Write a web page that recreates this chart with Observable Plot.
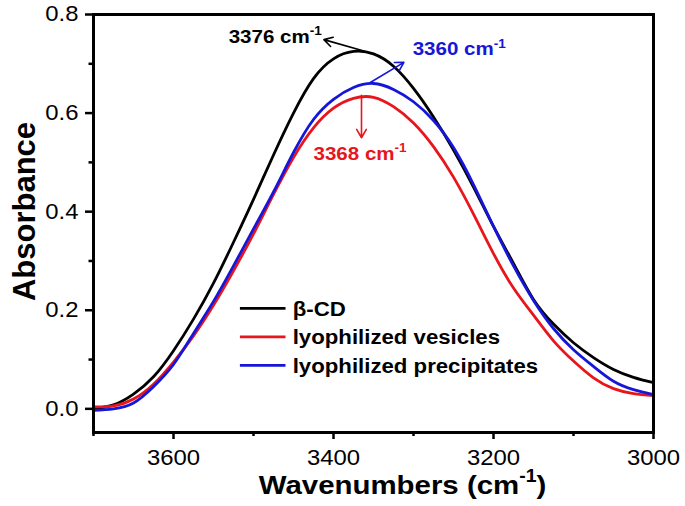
<!DOCTYPE html>
<html><head><meta charset="utf-8">
<script src="https://cdn.jsdelivr.net/npm/d3@7"></script>
<script src="https://cdn.jsdelivr.net/npm/@observablehq/plot@0.6"></script>
<style>body{margin:0;background:#fff}</style>
</head><body><div id="chart"></div>
<script>
const wavenumbers = [3700,3675,3650,3625,3600,3575,3550,3525,3500,3475,3450,3425,3400,3375,3350,3325,3300,3275,3250,3225,3200,3175,3150,3125,3100,3075,3050,3025,3000];
const betaCD = [0.000,0.008,0.030,0.065,0.118,0.182,0.255,0.338,0.425,0.515,0.600,0.670,0.710,0.725,0.720,0.695,0.650,0.592,0.525,0.450,0.370,0.295,0.222,0.172,0.134,0.104,0.080,0.064,0.053];
const vesicles = [0.004,0.006,0.020,0.050,0.095,0.148,0.210,0.280,0.355,0.435,0.510,0.570,0.610,0.630,0.632,0.613,0.580,0.532,0.470,0.395,0.315,0.245,0.190,0.138,0.097,0.063,0.041,0.031,0.027];
const precipitates = [-0.003,0.000,0.012,0.045,0.090,0.153,0.218,0.290,0.365,0.440,0.520,0.587,0.628,0.652,0.660,0.648,0.623,0.585,0.530,0.455,0.370,0.290,0.220,0.163,0.120,0.086,0.056,0.039,0.029];
const seriesNames = ["β-CD","lyophilized vesicles","lyophilized precipitates"];
const seriesColors = ["#000000","#e8161c","#1616d8"];
const xTicks = [3600,3400,3200,3000];
const xMinorTicks = [3700,3500,3300,3100];
const yTicks = [0,0.2,0.4,0.6,0.8];
const yMinorTicks = [0.1,0.3,0.5,0.7];
const peakLabels = ["3376 cm^-1","3360 cm^-1","3368 cm^-1"];
const peakColors = ["#000000","#1616d8","#e8161c"];
const peakLabelX = [3531,3301,3425];
const peakLabelY = [0.743,0.717,0.505];
const arrowFromX = [3362,3354,3365];
const arrowFromY = [0.726,0.662,0.636];
const arrowToX = [3412,3312,3365];
const arrowToY = [0.749,0.703,0.550];
const legendY = [0.204,0.146,0.088];

const series = [betaCD, vesicles, precipitates];
const rows = wavenumbers.flatMap((w, i) => series.map((s, k) => ({w, a: s[i], name: seriesNames[k]})));
const peaks = peakLabels.map((label, i) => ({label, x: peakLabelX[i], y: peakLabelY[i], x1: arrowFromX[i], y1: arrowFromY[i], x2: arrowToX[i], y2: arrowToY[i], color: peakColors[i]}));
const legend = seriesNames.map((name, i) => ({name, y: legendY[i], color: seriesColors[i]}));

const FONT = "'Liberation Sans', Arial, sans-serif";
const plot = Plot.plot({
  width: 685, height: 506,
  marginLeft: 93, marginRight: 32, marginTop: 14, marginBottom: 74,
  style: {fontFamily: FONT, fontSize: "21.5px", color: "#000", background: "#fff"},
  x: {domain: [3700, 3000], label: null},
  y: {domain: [-0.048, 0.8], label: null},
  color: {domain: seriesNames, range: seriesColors},
  marks: [
    Plot.line(rows, {x: "w", y: "a", z: "name", stroke: "name", strokeWidth: 2.8, curve: "natural"}),
    Plot.arrow(peaks, {x1: "x1", y1: "y1", x2: "x2", y2: "y2", stroke: "color", strokeWidth: 1.6, headLength: 9}),
    Plot.text(peaks, {x: "x", y: "y", text: "label", fill: "color", textAnchor: "start", lineAnchor: "bottom", fontSize: 18.5, fontWeight: "bold"}),
    Plot.link(legend, {x1: 3517, x2: 3460, y1: "y", y2: "y", stroke: "color", strokeWidth: 2.8}),
    Plot.text(legend, {x: 3451, y: "y", text: "name", textAnchor: "start", lineAnchor: "middle", dy: 1, fontSize: 20, fontWeight: "bold", fill: "#000"}),
    Plot.frame({stroke: "#000", strokeWidth: 3}),
    Plot.axisX(xTicks, {tickSize: 7, tickPadding: 10, strokeWidth: 2.5, tickFormat: d => String(d), label: null}),
    Plot.axisX(xMinorTicks, {tickSize: 4, strokeWidth: 2.5, tickFormat: () => "", label: null}),
    Plot.axisY(yTicks, {tickSize: 8, tickPadding: 7, strokeWidth: 2.5, tickFormat: d3.format(".1f"), label: null}),
    Plot.axisY(yMinorTicks, {tickSize: 4.5, strokeWidth: 2.5, tickFormat: () => "", label: null}),
    Plot.text(["Wavenumbers (cm^-1)"], {frameAnchor: "bottom", textAnchor: "middle", dx: 29, dy: 61, lineAnchor: "bottom", fontSize: 26.5, fontWeight: "bold", fill: "#000"}),
    Plot.text(["Absorbance"], {frameAnchor: "left", textAnchor: "middle", dx: -68, dy: -12, rotate: -90, lineAnchor: "middle", fontSize: 31, fontWeight: "bold", fill: "#000"})
  ]
});
document.getElementById("chart").appendChild(plot);

const NS = "http://www.w3.org/2000/svg";
function supify(t) {
  const s = t.textContent;
  const i = s.indexOf("^");
  if (i < 0) return;
  const base = s.slice(0, i);
  const m = s.slice(i + 1).match(/^(-?\d+)(.*)$/);
  const fs = parseFloat(getComputedStyle(t).fontSize);
  const shift = fs * 0.42;
  t.textContent = "";
  t.appendChild(document.createTextNode(base));
  const sup = document.createElementNS(NS, "tspan");
  sup.setAttribute("font-size", fs * 0.66);
  sup.setAttribute("dy", -shift);
  sup.textContent = m[1];
  t.appendChild(sup);
  if (m[2]) {
    const after = document.createElementNS(NS, "tspan");
    after.setAttribute("dy", shift);
    after.textContent = m[2];
    t.appendChild(after);
  }
}
for (const t of plot.querySelectorAll("text")) {
  supify(t);
  const tr = t.getAttribute("transform") || "";
  if (tr.includes("rotate")) continue;
  const len = t.getComputedTextLength();
  if (len > 0) {
    t.setAttribute("textLength", len * 1.11);
    t.setAttribute("lengthAdjust", "spacingAndGlyphs");
  }
}
</script>
</body></html>
